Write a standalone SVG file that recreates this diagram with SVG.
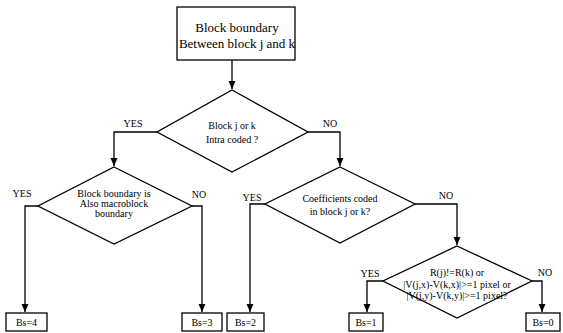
<svg xmlns="http://www.w3.org/2000/svg" width="563" height="333" viewBox="0 0 563 333" font-family="'Liberation Serif', 'Times New Roman', serif">
<style>
.shape{fill:#fff;stroke:#000;stroke-width:1.3}
.c{fill:none;stroke:#000;stroke-width:1.3}
text{font-family:'Liberation Serif','Times New Roman',serif;fill:#000;text-anchor:middle}
.big{font-size:13px}
.t{font-size:10px}
.lab{font-size:10px}
</style>
<defs>
<marker id="arr" markerUnits="userSpaceOnUse" markerWidth="9" markerHeight="8" refX="8" refY="3.5" orient="auto" viewBox="0 0 9 7"><path d="M0,0 L8,3.5 L0,7 Z" fill="#000"/></marker>
</defs>
<g id="connectors">
<path class="c" d="M232,60 V89" marker-end="url(#arr)"/>
<path class="c" d="M157,132 H114 V166" marker-end="url(#arr)"/>
<path class="c" d="M308,132 H340 V166" marker-end="url(#arr)"/>
<path class="c" d="M38,206 H25 V312" marker-end="url(#arr)"/>
<path class="c" d="M192,206 H202 V312" marker-end="url(#arr)"/>
<path class="c" d="M265,204 H250 V312" marker-end="url(#arr)"/>
<path class="c" d="M415,204 H457 V245" marker-end="url(#arr)"/>
<path class="c" d="M383,281 H367 V312" marker-end="url(#arr)"/>
<path class="c" d="M532,281 H542 V312" marker-end="url(#arr)"/>
<text class="lab" x="133" y="127">YES</text>
<text class="lab" x="330" y="127">NO</text>
<text class="lab" x="22" y="197">YES</text>
<text class="lab" x="199" y="198">NO</text>
<text class="lab" x="252" y="201">YES</text>
<text class="lab" x="446" y="199">NO</text>
<text class="lab" x="370" y="277">YES</text>
<text class="lab" x="545" y="276">NO</text>
</g>
<g id="start">
<rect class="shape" x="177" y="7" width="118" height="53"/>
<text class="big" x="237" y="32">Block boundary</text>
<text class="big" x="237" y="48">Between block j and k</text>
</g>
<g id="d1">
<polygon class="shape" points="232,90 308,132 232,172 157,132"/>
<text class="t" x="232" y="129">Block j or k</text>
<text class="t" x="232" y="143">Intra coded ?</text>
</g>
<g id="d2">
<polygon class="shape" points="114,167 192,206 114,244 38,206"/>
<text class="t" x="114" y="197">Block boundary is</text>
<text class="t" x="114" y="207">Also macroblock</text>
<text class="t" x="114" y="217">boundary</text>
</g>
<g id="d3">
<polygon class="shape" points="340,167 415,204 340,243 265,204"/>
<text class="t" x="340" y="202">Coefficients coded</text>
<text class="t" x="340" y="215">in block j or k?</text>
</g>
<g id="d4">
<polygon class="shape" points="457,246 532,281 457,318 383,281"/>
<text class="t" x="457" y="276">R(j)!=R(k) or</text>
<text class="t" x="457" y="288">|V(j,x)-V(k,x)|&gt;=1 pixel or</text>
<text class="t" x="457" y="299">|V(j,y)-V(k,y)|&gt;=1 pixel?</text>
</g>
<g id="bs4">
<rect class="shape" x="6" y="313" width="41" height="18"/>
<text class="t" x="26.5" y="325.5">Bs=4</text>
</g>
<g id="bs3">
<rect class="shape" x="182" y="313" width="40" height="18"/>
<text class="t" x="202" y="325.5">Bs=3</text>
</g>
<g id="bs2">
<rect class="shape" x="227" y="313" width="37" height="18"/>
<text class="t" x="245.5" y="325.5">Bs=2</text>
</g>
<g id="bs1">
<rect class="shape" x="349" y="313" width="34" height="18"/>
<text class="t" x="366" y="325.5">Bs=1</text>
</g>
<g id="bs0">
<rect class="shape" x="526" y="313" width="34" height="18"/>
<text class="t" x="543" y="325.5">Bs=0</text>
</g>
</svg>
